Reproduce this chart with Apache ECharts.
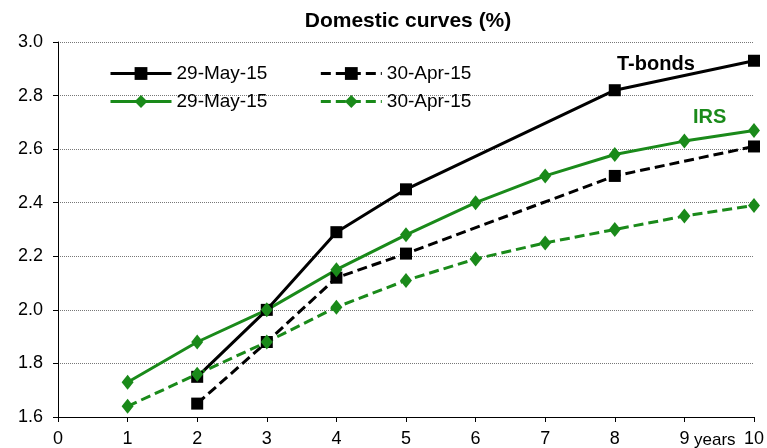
<!DOCTYPE html>
<html><head><meta charset="utf-8">
<script src="https://cdn.jsdelivr.net/npm/echarts@6/dist/echarts.min.js"></script>
<style>html,body{margin:0;padding:0;background:#fff}#c{width:767px;height:448px}</style>
</head><body><div id="c"></div>
<script>
const xTicks = [0,1,2,3,4,5,6,7,8,9,10];
const tbondX = [2,3,4,5,8,10];
const tbondMay = [1.75,2.00,2.29,2.45,2.82,2.93];
const tbondApr = [1.65,1.88,2.12,2.21,2.50,2.61];
const irsX = [1,2,3,4,5,6,7,8,9,10];
const irsMay = [1.73,1.88,2.00,2.15,2.28,2.40,2.50,2.58,2.63,2.67];
const irsApr = [1.64,1.76,1.88,2.01,2.11,2.19,2.25,2.30,2.35,2.39];
const seriesNames = ['29-May-15','30-Apr-15','29-May-15','30-Apr-15'];

const BLACK='#000000', GREEN='#1a8a1a';
const font='Liberation Sans, Arial, sans-serif';
function pairs(xs, ys){ return xs.map((x,i)=>[x, ys[i]]); }
function mk(id, xs, ys, color, dashed, symbol, size){
  return {
    id, name: id, type:'line', data: pairs(xs, ys),
    symbol, symbolSize: size, showSymbol:true,
    lineStyle:{color, width:3, type: dashed ? [10,5] : 'solid'},
    itemStyle:{color},
    emphasis:{disabled:true}, animation:false
  };
}
const nameMap={TM:seriesNames[0],TA:seriesNames[1],IM:seriesNames[2],IA:seriesNames[3]};
const legendBase = {left:104, orient:'horizontal', itemWidth:61, itemHeight:16, itemGap:52,
  formatter:n=>nameMap[n], textStyle:{fontFamily:font, fontSize:19, color:'#000'},
  selectedMode:false, lineStyle:{width:3}};
const chart = echarts.init(document.getElementById('c'));
chart.setOption({
  backgroundColor:'#fff',
  animation:false,
  title:{text:'Domestic curves (%)', left:403, top:6, textAlign:'center',
    textStyle:{fontFamily:font, fontSize:21, fontWeight:'bold', color:'#000'}},
  grid:{left:58, right:11, top:42, bottom:31, containLabel:false},
  legend:[
    Object.assign({}, legendBase, {data:['TM','TA'], top:59}),
    Object.assign({}, legendBase, {data:['IM','IA'], top:87})
  ],
  xAxis:{type:'value', min:0, max:10, interval:1,
    axisLine:{show:true, lineStyle:{color:'#000', width:1}},
    axisTick:{show:true, length:5, lineStyle:{color:'#000'}},
    axisLabel:{fontFamily:font, fontSize:18, color:'#000', margin:13,
      formatter:v=>String(xTicks[v])},
    splitLine:{show:false}},
  yAxis:{type:'value', min:1.6, max:3.0, interval:0.2,
    axisLine:{show:true, lineStyle:{color:'#000', width:1}},
    axisTick:{show:true, length:5, lineStyle:{color:'#000'}},
    axisLabel:{fontFamily:font, fontSize:18, color:'#000', margin:15, formatter:v=>v.toFixed(1)},
    splitLine:{show:true, lineStyle:{color:'#777', width:1, type:[1,1]}}},
  graphic:[
    {type:'text', left:694, top:432, style:{text:'years', font:'17px '+font, fill:'#000'}},
    {type:'text', left:617, top:54, style:{text:'T-bonds', font:'bold 20px '+font, fill:'#000'}},
    {type:'text', left:693, top:107, style:{text:'IRS', font:'bold 20px '+font, fill:GREEN}}
  ],
  series:[
    mk('TM', tbondX, tbondMay, BLACK, false, 'rect', 12),
    mk('TA', tbondX, tbondApr, BLACK, true, 'rect', 12),
    mk('IM', irsX, irsMay, GREEN, false, 'diamond', [12,15]),
    mk('IA', irsX, irsApr, GREEN, true, 'diamond', [12,15])
  ]
});
</script></body></html>
